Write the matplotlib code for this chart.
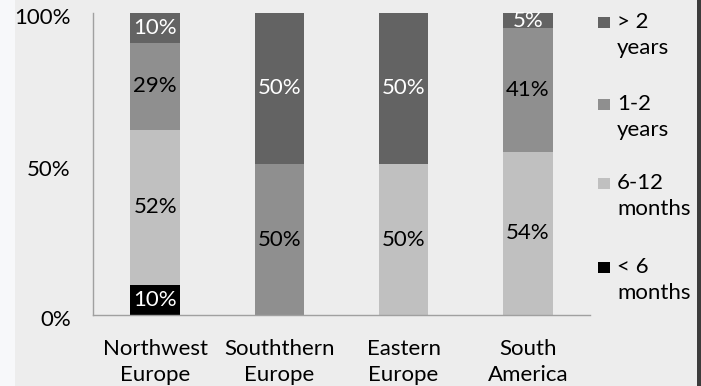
import numpy as np
import matplotlib
matplotlib.use("Agg")
import matplotlib.pyplot as plt
from matplotlib.patches import Rectangle
from matplotlib.transforms import ScaledTranslation

plt.rcParams["font.family"] = ["Lato", "DejaVu Sans"]

# Share of respondents by duration, per region (percent)
regions = ["Northwest\nEurope", "Souththern\nEurope", "Eastern\nEurope", "South\nAmerica"]
durations = ["< 6\nmonths", "6-12\nmonths", "1-2\nyears", "> 2\nyears"]
less_6m = [10, 0, 0, 0]
m6_12 = [52, 0, 50, 54]
y1_2 = [29, 50, 0, 41]
more_2y = [10, 50, 50, 5]
yticks = [0, 50, 100]
ytick_labels = ["0%", "50%", "100%"]

colors = ["#000000", "#c0c0c0", "#8f8f8f", "#636363"]
label_colors = ["white", "black", "black", "white"]
FS = 16

W, H = 701, 386
fig = plt.figure(figsize=(W / 100, H / 100), dpi=100)
fig.patch.set_facecolor("#ededed")
# side strips of the slide background
fig.patches.append(Rectangle((0, 0), 15 / W, 1, transform=fig.transFigure,
                             facecolor="#f7f8fa", edgecolor="none", zorder=0))
fig.patches.append(Rectangle((697 / W, 0), 4 / W, 1, transform=fig.transFigure,
                             facecolor="#3c3c3c", edgecolor="none", zorder=0))

ax = fig.add_axes([93 / W, (H - 315) / H, 497 / W, 302 / H])
ax.set_facecolor("none")

series = np.array([less_6m, m6_12, y1_2, more_2y], dtype=float)
totals = series.sum(axis=0)
shares = series / totals * 100
x = np.arange(len(regions))
bottom = np.zeros(len(regions))
for vals, raw, col, tcol in zip(shares, series, colors, label_colors):
    ax.bar(x, vals, 0.4, bottom=bottom, color=col, edgecolor="none", zorder=2)
    for xi, v, r, b in zip(x, vals, raw, bottom):
        if r > 0:
            ax.text(xi, b + v / 2, f"{r:.0f}%", ha="center", va="center",
                    color=tcol, fontsize=FS, zorder=3)
    bottom += vals

ax.set_xlim(-0.5, len(regions) - 0.5)
ax.set_ylim(0, 100)
ax.set_yticks(yticks)
ax.set_yticklabels(ytick_labels)
ax.set_xticks(x)
ax.set_xticklabels(regions, linespacing=1.38)
ax.tick_params(axis="y", length=0, pad=16, labelsize=FS)
ax.tick_params(axis="x", length=0, pad=17, labelsize=FS)
# y labels sit a little below their gridline
nudge = ScaledTranslation(0, -3.5 / 100, fig.dpi_scale_trans)
for lab in ax.get_yticklabels():
    lab.set_transform(lab.get_transform() + nudge)
for s in ["top", "right"]:
    ax.spines[s].set_visible(False)
for s in ["left", "bottom"]:
    ax.spines[s].set_color("#a0a0a0")
    ax.spines[s].set_linewidth(1.0)

# legend drawn on the right, top entry first
entry_tops = [17, 99, 178, 262]
for top, lab, col in zip(entry_tops, durations[::-1], colors[::-1]):
    fig.patches.append(Rectangle((598 / W, 1 - (top + 11) / H), 12 / W, 11 / H,
                                 transform=fig.transFigure, facecolor=col,
                                 edgecolor="none"))
    fig.text(617 / W, 1 - (top - 5) / H, lab, ha="left", va="top",
             fontsize=FS, linespacing=1.38)

fig.savefig("out.png", dpi=100, facecolor=fig.get_facecolor())
